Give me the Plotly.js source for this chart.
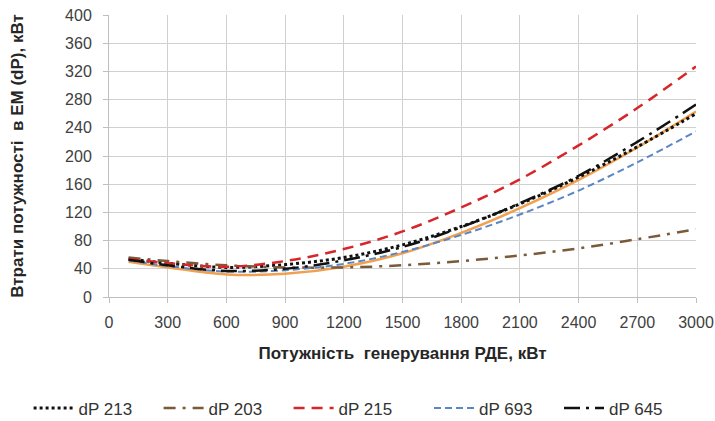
<!DOCTYPE html>
<html>
<head>
<meta charset="utf-8">
<script src="https://cdn.plot.ly/plotly-3.0.1.min.js"></script>
<style>html,body{margin:0;padding:0;background:#fff;}#chart{width:715px;height:421px;}</style>
</head>
<body>
<div id="chart"></div>
<script>
const power = [100, 300, 600, 900, 1200, 1500, 1800, 2100, 2400, 2700, 3000];
const dP213 = [54, 48, 42, 46, 56, 74, 100, 132, 170, 213, 260];
const dP203 = [56, 51, 45, 42, 42, 45, 51, 59, 69, 82, 96];
const dP215 = [54, 48, 43, 51, 68, 93, 127, 167, 215, 268, 327];
const dP693 = [52, 44, 36, 38, 47, 64, 88, 117, 151, 191, 235];
const dP645 = [53, 45, 37, 40, 52, 71, 99, 133, 172, 220, 273];
const dPfit = [50, 42, 32, 33, 43, 62, 91, 126, 166, 212, 263];

const xTicks = [0, 300, 600, 900, 1200, 1500, 1800, 2100, 2400, 2700, 3000];
const yTicks = [0, 40, 80, 120, 160, 200, 240, 280, 320, 360, 400];

const FONT = 'Liberation Sans, Arial, sans-serif';

const traces = [
  {x: power, y: dPfit, name: 'fit', showlegend: false, mode: 'lines',
   line: {color: '#f0a04f', width: 2.5, shape: 'spline'}},
  {x: power, y: dP213, name: 'dP 213', mode: 'lines', legend: 'legend',
   line: {color: '#111111', width: 3, dash: '3px,3px', shape: 'spline'}},
  {x: power, y: dP203, name: 'dP 203', mode: 'lines', legend: 'legend',
   line: {color: '#7a5a38', width: 2.5, dash: '12px,7px,3px,7px', shape: 'spline'}},
  {x: power, y: dP215, name: 'dP 215', mode: 'lines', legend: 'legend',
   line: {color: '#d7262a', width: 2.5, dash: '11px,7px', shape: 'spline'}},
  {x: power, y: dP693, name: 'dP 693', mode: 'lines', legend: 'legend2',
   line: {color: '#5a86c4', width: 2, dash: '7px,4px', shape: 'spline'}},
  {x: power, y: dP645, name: 'dP 645', mode: 'lines', legend: 'legend2',
   line: {color: '#111111', width: 2.5, dash: '16px,6px,3px,6px', shape: 'spline'}}
];

const legendBase = {orientation: 'h', xanchor: 'left', xref: 'container',
  yref: 'container', y: 0.03, yanchor: 'middle',
  font: {size: 17, color: '#333333', family: FONT},
  itemwidth: 40, entrywidth: 75, entrywidthmode: 'pixels',
  traceorder: 'normal', bgcolor: 'rgba(0,0,0,0)'};

const layout = {
  width: 715, height: 421,
  margin: {l: 109, r: 19, t: 15, b: 124},
  paper_bgcolor: '#ffffff', plot_bgcolor: '#ffffff',
  font: {family: FONT, color: '#333333'},
  showlegend: true,
  legend: Object.assign({}, legendBase, {x: 0.04}),
  legend2: Object.assign({}, legendBase, {x: 0.60}),
  xaxis: {range: [0, 3000], tickvals: xTicks, ticktext: xTicks.map(String),
          showgrid: true, gridcolor: '#d0d0d0', gridwidth: 1,
          showline: true, linecolor: '#bfbfbf', linewidth: 1,
          ticks: 'outside', ticklen: 5, tickcolor: '#bfbfbf', ticklabelstandoff: 6,
          zeroline: false, tickfont: {size: 16, color: '#404040', family: FONT},
          automargin: false,
          title: {text: 'Потужність  генерування РДЕ, кВт', standoff: 16,
                  font: {size: 17, color: '#262626', family: FONT, weight: 'bold'}}},
  yaxis: {range: [0, 400], tickvals: yTicks, ticktext: yTicks.map(String),
          showgrid: true, gridcolor: '#d0d0d0', gridwidth: 1,
          showline: true, linecolor: '#bfbfbf', linewidth: 1,
          ticks: 'outside', ticklen: 5, tickcolor: '#bfbfbf', ticklabelstandoff: 8,
          zeroline: false, tickfont: {size: 16, color: '#404040', family: FONT},
          automargin: false,
          title: {text: 'Втрати потужності  в ЕМ (dP), кВт', standoff: 37,
                  font: {size: 17, color: '#262626', family: FONT, weight: 'bold'}}}
};

Plotly.newPlot('chart', traces, layout, {displayModeBar: false, staticPlot: true});
</script>
</body>
</html>
